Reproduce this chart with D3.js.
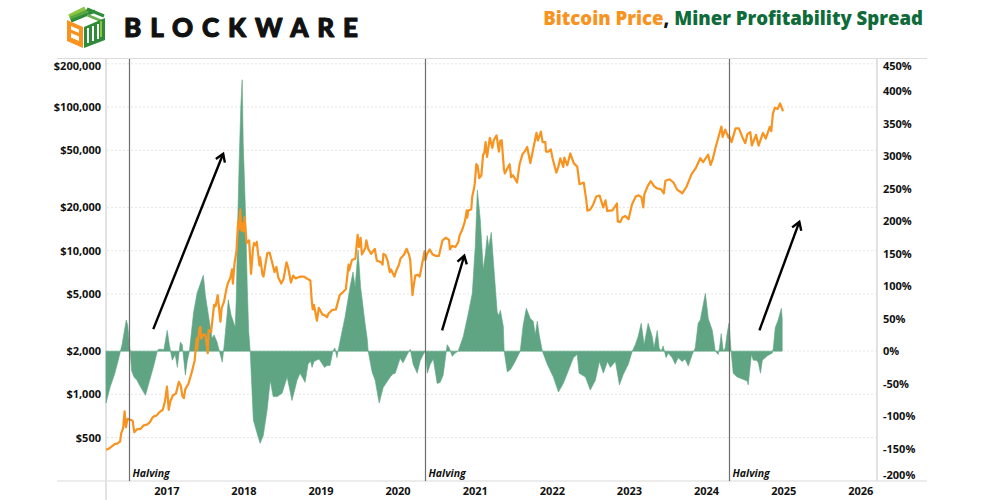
<!DOCTYPE html>
<html><head><meta charset="utf-8">
<script src="https://cdn.jsdelivr.net/npm/d3@7"></script>
<style>html,body{margin:0;padding:0;background:#fff;} svg{display:block;font-family:"Open Sans",sans-serif;}</style>
</head><body><svg id="c" width="984" height="500"></svg>
<script>
// ---------------- DATA ----------------
const btcPrice = [
["2016-03-21",412],["2016-04-01",416],["2016-04-15",430],["2016-05-01",450],["2016-05-15",455],["2016-05-27",470],["2016-06-01",535],["2016-06-10",580],["2016-06-17",760],["2016-06-23",590],["2016-07-01",675],["2016-07-15",665],["2016-07-25",655],["2016-08-02",545],["2016-08-15",570],["2016-09-01",575],["2016-09-15",607],["2016-10-01",615],["2016-10-15",640],["2016-10-28",690],["2016-11-05",705],["2016-11-15",710],["2016-12-01",755],["2016-12-15",780],["2016-12-25",890],
["2017-01-04",1130],["2017-01-12",780],["2017-01-20",895],["2017-02-01",985],["2017-02-15",1010],["2017-03-01",1220],["2017-03-10",1150],["2017-03-18",970],["2017-03-25",940],["2017-04-01",1090],["2017-04-15",1180],["2017-05-01",1420],["2017-05-15",1720],["2017-05-25",2450],["2017-05-27",2050],["2017-06-06",2850],["2017-06-11",2950],["2017-06-15",2450],["2017-06-25",2600],["2017-07-05",2600],["2017-07-16",1930],["2017-07-20",2800],["2017-08-01",2720],["2017-08-08",3400],["2017-08-15",4200],["2017-08-22",4100],["2017-09-01",4900],["2017-09-14",3200],["2017-09-20",4000],["2017-10-01",4400],["2017-10-12",5400],["2017-10-20",5980],["2017-10-31",6450],["2017-11-08",7400],["2017-11-12",5900],["2017-11-20",8200],["2017-11-29",9900],["2017-12-07",16000],["2017-12-10",14000],["2017-12-17",19300],["2017-12-22",13800],["2017-12-27",15500],
["2018-01-01",13600],["2018-01-06",17100],["2018-01-16",11300],["2018-01-28",11800],["2018-02-06",6900],["2018-02-15",10200],["2018-02-20",11300],["2018-03-01",10900],["2018-03-05",11500],["2018-03-18",7900],["2018-03-21",9000],["2018-04-01",6800],["2018-04-06",6600],["2018-04-15",8000],["2018-04-24",9600],["2018-05-05",9700],["2018-05-15",8500],["2018-05-28",7100],["2018-06-06",7700],["2018-06-15",6500],["2018-06-29",5900],["2018-07-10",6350],["2018-07-24",8300],["2018-08-01",7600],["2018-08-14",6000],["2018-08-25",6700],["2018-09-05",6400],["2018-09-15",6500],["2018-10-01",6600],["2018-10-15",6600],["2018-11-01",6350],["2018-11-14",6200],["2018-11-20",4600],["2018-11-25",3900],["2018-12-01",4200],["2018-12-15",3250],["2018-12-24",4000],
["2019-01-01",3800],["2019-01-10",3600],["2019-01-20",3550],["2019-02-01",3450],["2019-02-08",3650],["2019-02-24",3850],["2019-03-15",3900],["2019-04-02",4900],["2019-04-15",5100],["2019-05-01",5400],["2019-05-14",8000],["2019-05-17",7300],["2019-05-30",8600],["2019-06-15",8800],["2019-06-26",12900],["2019-07-02",10600],["2019-07-10",12300],["2019-07-16",9400],["2019-08-01",10400],["2019-08-06",11800],["2019-08-15",10300],["2019-08-29",9500],["2019-09-15",10300],["2019-09-25",8500],["2019-10-15",8300],["2019-10-22",8000],["2019-10-26",9500],["2019-11-05",9300],["2019-11-15",8500],["2019-11-25",7100],["2019-12-01",7400],["2019-12-17",6600],["2019-12-25",7200],
["2020-01-08",8000],["2020-01-15",8800],["2020-02-01",9400],["2020-02-13",10300],["2020-02-25",9300],["2020-03-01",8600],["2020-03-12",4900],["2020-03-15",5400],["2020-03-25",6700],["2020-04-05",6800],["2020-04-15",6600],["2020-04-30",8600],["2020-05-08",9900],["2020-05-11",8600],["2020-05-20",9500],["2020-06-01",10200],["2020-06-15",9400],["2020-07-01",9200],["2020-07-15",9200],["2020-07-27",11000],["2020-08-01",11800],["2020-08-17",12300],["2020-09-01",11900],["2020-09-05",10200],["2020-09-15",10800],["2020-10-01",10600],["2020-10-15",11500],["2020-10-21",12800],["2020-11-01",13800],["2020-11-15",16000],["2020-11-24",19100],["2020-11-26",17000],["2020-12-01",19000],["2020-12-15",19400],["2020-12-20",23900],["2020-12-27",26500],
["2021-01-01",29400],["2021-01-08",40000],["2021-01-14",39000],["2021-01-22",32000],["2021-02-01",33500],["2021-02-09",46500],["2021-02-15",48000],["2021-02-21",57000],["2021-02-28",45000],["2021-03-13",61000],["2021-03-25",52000],["2021-04-01",59000],["2021-04-14",63500],["2021-04-25",49000],["2021-05-01",57800],["2021-05-08",58800],["2021-05-12",50000],["2021-05-19",37000],["2021-05-23",34500],["2021-06-01",36700],["2021-06-15",40000],["2021-06-22",32500],["2021-07-01",33500],["2021-07-20",29800],["2021-08-01",40000],["2021-08-15",47000],["2021-08-25",48900],["2021-09-06",52700],["2021-09-21",40700],["2021-10-01",48000],["2021-10-20",66000],["2021-10-27",58500],["2021-11-10",67500],["2021-11-18",57000],["2021-12-01",57000],["2021-12-04",49000],["2021-12-15",48900],["2021-12-27",50700],
["2022-01-05",43500],["2022-01-22",35000],["2022-02-01",38500],["2022-02-10",44000],["2022-02-24",38300],["2022-03-01",44400],["2022-03-15",39300],["2022-03-29",47500],["2022-04-15",40500],["2022-05-01",38500],["2022-05-12",29000],["2022-06-01",29800],["2022-06-13",22500],["2022-06-18",19000],["2022-07-01",19300],["2022-07-15",20800],["2022-07-30",23800],["2022-08-15",24200],["2022-09-01",20000],["2022-09-12",22400],["2022-09-20",18900],["2022-10-15",19100],["2022-11-05",21300],["2022-11-09",16000],["2022-11-21",15800],["2022-12-01",17000],["2022-12-15",17400],["2022-12-30",16550],
["2023-01-15",20900],["2023-02-01",23700],["2023-02-15",24300],["2023-03-01",23600],["2023-03-10",20000],["2023-03-15",24700],["2023-04-01",28400],["2023-04-14",30500],["2023-05-01",28000],["2023-05-15",27100],["2023-06-01",26800],["2023-06-15",25100],["2023-06-23",30700],["2023-07-13",31400],["2023-08-01",29700],["2023-08-17",26600],["2023-09-11",25100],["2023-10-01",27900],["2023-10-24",34000],["2023-11-15",37900],["2023-12-05",44000],["2023-12-18",41400],
["2024-01-01",44200],["2024-01-11",46600],["2024-01-23",39500],["2024-02-01",43000],["2024-02-15",52000],["2024-03-01",62400],["2024-03-14",73000],["2024-03-20",62000],["2024-04-01",69700],["2024-04-17",61000],["2024-04-19",63800],["2024-05-01",57000],["2024-05-20",71000],["2024-06-05",71000],["2024-06-24",60300],["2024-07-05",56000],["2024-07-15",64800],["2024-07-29",66800],["2024-08-05",54000],["2024-08-25",64000],["2024-09-06",53900],["2024-09-27",66000],["2024-10-10",60300],["2024-10-29",72700],["2024-11-05",68000],["2024-11-13",90000],["2024-11-22",98900],["2024-12-05",97000],["2024-12-17",106000],["2024-12-25",98500],["2024-12-31",93500]
];

const minerSpread = [
["2016-03-21",-80],["2016-04-10",-55],["2016-05-01",-35],["2016-05-18",-14],["2016-06-05",10],["2016-06-18",35],["2016-06-25",48],["2016-07-02",40],["2016-07-10",10],["2016-07-14",0],["2016-07-20",-30],["2016-08-01",-40],["2016-08-15",-45],["2016-08-31",-55],["2016-09-24",-68],["2016-10-05",-55],["2016-10-31",-25],["2016-11-19",0],["2016-11-25",3],["2016-12-10",3],["2016-12-20",2],
["2017-01-05",32],["2017-01-15",10],["2017-01-29",-14],["2017-02-12",-5],["2017-02-22",-25],["2017-03-08",14],["2017-03-17",10],["2017-04-01",-37],["2017-04-10",-15],["2017-04-20",0],["2017-05-10",60],["2017-05-27",90],["2017-06-25",117],["2017-07-05",85],["2017-07-28",37],["2017-08-05",20],["2017-08-15",25],["2017-08-28",15],["2017-09-23",-17],["2017-10-02",10],["2017-10-16",58],["2017-10-21",79],["2017-11-04",55],["2017-11-23",37],["2017-11-28",80],["2017-12-05",200],["2017-12-12",295],["2017-12-20",380],["2017-12-26",418],["2017-12-31",320],
["2018-01-10",222],["2018-01-19",100],["2018-01-26",30],["2018-02-02",0],["2018-02-17",-106],["2018-03-07",-127],["2018-03-21",-142],["2018-04-05",-130],["2018-04-23",-91],["2018-05-08",-45],["2018-05-22",-70],["2018-06-10",-70],["2018-07-03",-65],["2018-07-27",-40],["2018-08-19",-76],["2018-09-12",-45],["2018-09-26",-34],["2018-10-20",-48],["2018-11-03",-20],["2018-11-15",-15],["2018-11-22",-25],["2018-12-01",-16],["2018-12-25",-12],
["2019-01-20",-25],["2019-02-01",-22],["2019-02-15",-22],["2019-03-01",0],["2019-03-10",5],["2019-03-20",-10],["2019-03-25",0],["2019-04-13",30],["2019-04-27",52],["2019-05-21",99],["2019-06-04",122],["2019-06-14",99],["2019-06-28",156],["2019-07-10",99],["2019-07-31",43],["2019-08-10",20],["2019-08-15",0],["2019-09-03",-33],["2019-09-17",-45],["2019-10-06",-80],["2019-10-25",-56],["2019-11-27",-40],["2019-12-10",-35],["2019-12-21",-34],
["2020-01-13",-11],["2020-01-27",-18],["2020-02-16",-5],["2020-03-01",3],["2020-03-15",-20],["2020-04-03",-34],["2020-04-17",-15],["2020-05-02",-5],["2020-05-11",0],["2020-05-21",-34],["2020-06-04",-20],["2020-06-18",-12],["2020-07-07",-50],["2020-07-21",-48],["2020-08-04",-37],["2020-08-23",10],["2020-09-02",5],["2020-09-16",-8],["2020-09-30",-3],["2020-10-14",0],["2020-11-07",22],["2020-12-01",58],["2020-12-20",89],
["2021-01-03",161],["2021-01-13",248],["2021-01-27",202],["2021-02-10",125],["2021-02-20",150],["2021-03-01",178],["2021-03-08",160],["2021-03-20",183],["2021-03-30",138],["2021-04-17",60],["2021-04-25",55],["2021-05-02",63],["2021-05-16",38],["2021-05-20",0],["2021-06-04",-32],["2021-06-20",-28],["2021-07-11",-16],["2021-08-04",0],["2021-08-18",40],["2021-09-02",66],["2021-09-21",50],["2021-10-05",46],["2021-10-14",25],["2021-10-24",46],["2021-11-02",25],["2021-11-17",0],["2021-12-10",-20],
["2022-01-08",-40],["2022-02-01",-63],["2022-02-24",-50],["2022-03-20",-30],["2022-04-13",-10],["2022-05-01",-5],["2022-05-10",-34],["2022-06-09",-40],["2022-07-02",-60],["2022-07-26",-45],["2022-08-14",-16],["2022-09-02",-34],["2022-09-21",-16],["2022-10-05",-25],["2022-10-29",-16],["2022-11-17",-52],["2022-12-05",-36],["2022-12-29",-20],
["2023-01-17",0],["2023-01-31",10],["2023-02-14",23],["2023-02-28",43],["2023-03-14",10],["2023-04-02",43],["2023-04-21",23],["2023-04-30",5],["2023-05-15",32],["2023-05-24",5],["2023-06-03",0],["2023-06-12",8],["2023-06-26",-10],["2023-07-06",-3],["2023-07-25",-10],["2023-08-08",-20],["2023-08-22",-10],["2023-09-10",-16],["2023-09-24",-12],["2023-10-09",-23],["2023-10-28",-5],["2023-11-11",5],["2023-11-25",43],["2023-12-05",48],["2023-12-29",89],
["2024-01-12",50],["2024-01-31",32],["2024-02-14",0],["2024-02-28",-5],["2024-03-05",5],["2024-03-13",27],["2024-03-23",0],["2024-04-01",5],["2024-04-10",27],["2024-04-19",43],["2024-04-29",0],["2024-05-09",-34],["2024-05-28",-40],["2024-06-21",-43],["2024-07-14",-46],["2024-07-19",-52],["2024-08-03",-5],["2024-08-12",-14],["2024-08-27",-14],["2024-09-05",-18],["2024-09-15",-34],["2024-09-24",-14],["2024-10-18",-7],["2024-11-10",-3],["2024-11-15",5],["2024-11-24",36],["2024-12-08",48],["2024-12-23",66],["2024-12-27",50]
];

const halvingDates = ["2016-07-09","2020-05-11","2024-04-19"];
const yearTicks = [2017,2018,2019,2020,2021,2022,2023,2024,2025,2026];
const priceTicks = [500,1000,2000,5000,10000,20000,50000,100000,200000];
const spreadTicks = [-200,-150,-100,-50,0,50,100,150,200,250,300,350,400,450];
const titleParts = ["Bitcoin Price", ",", "Miner Profitability Spread"];
// arrows: [tail date, tail %], [head date, head %]
const arrowsData = [
  [["2016-10-31",34],["2017-09-27",304]],
  [["2020-07-30",32],["2020-11-12",147]],
  [["2024-09-10",32],["2025-03-18",199]]
];

// ---------------- CHART ----------------
const parse = d3.timeParse("%Y-%m-%d");
const svg = d3.select("#c");
const P = {left:106,right:877,top:59,bottom:481};
const ORANGE = "#f7931e", GREEN = "#60a583", DKGREEN = "#0f6b3a";

const x = d3.scaleTime().domain([parse("2016-03-21"), parse("2026-03-21")]).range([P.left, P.right]);
const yP = d3.scaleLog().domain([249, 216000]).range([P.bottom, P.top]);
const yS = d3.scaleLinear().domain([-200, 450]).range([P.bottom, P.top]);

const price = btcPrice.map(d => ({date: parse(d[0]), v: d[1]}));
const spread = minerSpread.map(d => ({date: parse(d[0]), v: d[1]}));

// frame lines
svg.append("line").attr("x1",57).attr("x2",927).attr("y1",P.top-0.5).attr("y2",P.top-0.5).attr("stroke","#dcdcdc").attr("stroke-width",1);
svg.append("line").attr("x1",57).attr("x2",927).attr("y1",P.bottom).attr("y2",P.bottom).attr("stroke","#d9d9d9").attr("stroke-width",1.2);
svg.append("line").attr("x1",P.left).attr("x2",P.left).attr("y1",P.top).attr("y2",500).attr("stroke","#e2e2e2").attr("stroke-width",2);
svg.append("line").attr("x1",P.right).attr("x2",P.right).attr("y1",P.top).attr("y2",P.bottom).attr("stroke","#e2e2e2").attr("stroke-width",2);

// gridlines
svg.append("g").selectAll("line").data(priceTicks).join("line")
  .attr("x1",P.left+1).attr("x2",P.right-1)
  .attr("y1",d=>yP(d)).attr("y2",d=>yP(d))
  .attr("stroke","#e6e6e6").attr("stroke-dasharray","2,2").attr("stroke-width",1);

// spread area
const area = d3.area().x(d=>x(d.date)).y0(yS(0)).y1(d=>yS(d.v));
svg.append("path").datum(spread).attr("d",area).attr("fill",GREEN).attr("stroke",GREEN).attr("stroke-width",0.6);

// price line
const line = d3.line().x(d=>x(d.date)).y(d=>yP(d.v));
svg.append("path").datum(price).attr("d",line).attr("fill","none").attr("stroke",ORANGE).attr("stroke-width",2.2).attr("stroke-linejoin","round");

// halving lines
const hg = svg.append("g");
halvingDates.forEach(s => {
  const hx = Math.round(x(parse(s)))+0.5;
  hg.append("line").attr("x1",hx).attr("x2",hx).attr("y1",P.top).attr("y2",P.bottom).attr("stroke","#6e6e6e").attr("stroke-width",1.2);
  hg.append("text").attr("x",hx+3).attr("y",477).text("Halving")
    .attr("font-size",10.5).attr("font-weight",700).attr("font-style","italic").attr("fill","#111");
});

// axes
const tickFont = g => g.selectAll("text").attr("font-size",11).attr("font-weight",700).attr("fill","#111").attr("font-family","'Open Sans',sans-serif");
const axL = svg.append("g").attr("transform",`translate(101,0)`)
  .call(d3.axisLeft(yP).tickValues(priceTicks).tickSize(0).tickPadding(0).tickFormat(d=>"$"+d3.format(",")(d)));
axL.select(".domain").remove(); tickFont(axL);
const axR = svg.append("g").attr("transform",`translate(883,0)`)
  .call(d3.axisRight(yS).tickValues(spreadTicks).tickSize(0).tickPadding(0).tickFormat(d=>d+"%"));
axR.select(".domain").remove(); tickFont(axR);
axR.selectAll(".tick").filter(d=>d===450).select("text").attr("dy","0.32em").attr("y",7);
axR.selectAll(".tick").filter(d=>d===-200).select("text").attr("y",-6);
axL.selectAll(".tick").filter(d=>d===200000).select("text").attr("y",2);
const axB = svg.append("g").attr("transform",`translate(0,${P.bottom})`)
  .call(d3.axisBottom(x).tickValues(yearTicks.map(y=>new Date(y,0,1))).tickSize(0).tickPadding(6).tickFormat(d3.timeFormat("%Y")));
axB.select(".domain").remove(); tickFont(axB);

// arrows
const ag = svg.append("g");
arrowsData.forEach(a => {
  const x1 = x(parse(a[0][0])), y1 = yS(a[0][1]);
  const x2 = x(parse(a[1][0])), y2 = yS(a[1][1]);
  ag.append("line").attr("x1",x1).attr("y1",y1).attr("x2",x2).attr("y2",y2).attr("stroke","#000").attr("stroke-width",2.4);
  const ang = Math.atan2(y2-y1, x2-x1), L = 9, sp = Math.PI/5.5;
  const p1 = [x2 - L*Math.cos(ang-sp), y2 - L*Math.sin(ang-sp)];
  const p2 = [x2 - L*Math.cos(ang+sp), y2 - L*Math.sin(ang+sp)];
  ag.append("path").attr("d",`M${p1[0]},${p1[1]}L${x2},${y2}L${p2[0]},${p2[1]}`)
    .attr("fill","none").attr("stroke","#000").attr("stroke-width",2.4).attr("stroke-linejoin","miter");
});

// title: three separate texts laid out left to right, right edge at 923
const titleColors = [ORANGE, "#111", DKGREEN];
const tg = svg.append("g");
const tEls = titleParts.map((s,i) => tg.append("text").attr("y",25).text(s)
  .attr("font-size",19).attr("font-weight",800).attr("font-family","'Open Sans',sans-serif").attr("fill",titleColors[i]));
const gap = 5;
let widths = tEls.map(e => e.node().getComputedTextLength());
let total = widths.reduce((a,b)=>a+b,0) + gap;
const fs = Math.min(19, 19*380/total);
tEls.forEach(e => e.attr("font-size",fs));
widths = tEls.map(e => e.node().getComputedTextLength());
total = widths[0]+widths[1]+gap+widths[2];
let cx = 923 - total;
tEls[0].attr("x",cx); cx += widths[0];
tEls[1].attr("x",cx); cx += widths[1] + gap;
tEls[2].attr("x",cx);

// logo
const lg = svg.append("g").attr("transform","translate(67,5)");
[0,5,10].forEach((o,i) => {
  lg.append("path").attr("d",`M${2+o*0.2},${11+o*0.5}L${18+o},${3+o*0.3}`).attr("stroke",["#8cc63f","#5aa83c","#2e8b3a"][i]).attr("stroke-width",3.2).attr("fill","none");
});
lg.append("path").attr("d","M20,4L37,11").attr("stroke","#2e8b3a").attr("stroke-width",3).attr("fill","none");
lg.append("path").attr("d","M20,10L37,17").attr("stroke","#6ab04c").attr("stroke-width",2.5).attr("fill","none");
lg.append("path").attr("d","M0,15L16,22L16,43L0,36Z").attr("fill",ORANGE);
lg.append("path").attr("d","M4,21L12,24.5L12,28L4,24.5Z M4,28L12,31.5L12,36L4,32.5Z").attr("fill","#fff");
lg.append("path").attr("d","M17,22L38,13L38,35L17,43Z").attr("fill","#2e8b3a");
lg.append("path").attr("d","M21,23L21,38 M26,21L26,36 M31,19L31,34").attr("stroke","#fff").attr("stroke-width",2).attr("fill","none");
lg.append("path").attr("d","M34,16L34,32").attr("stroke","#8cc63f").attr("stroke-width",2).attr("fill","none");

svg.append("text").attr("x",124).attr("y",37).text("BLOCKWARE")
  .attr("font-family","Lato, 'Open Sans', sans-serif").attr("font-weight",900).attr("font-size",26)
  .attr("fill","#111").attr("stroke","#111").attr("stroke-width",1.1).attr("stroke-linejoin","round")
  .attr("textLength",234).attr("lengthAdjust","spacing");
</script></body></html>
